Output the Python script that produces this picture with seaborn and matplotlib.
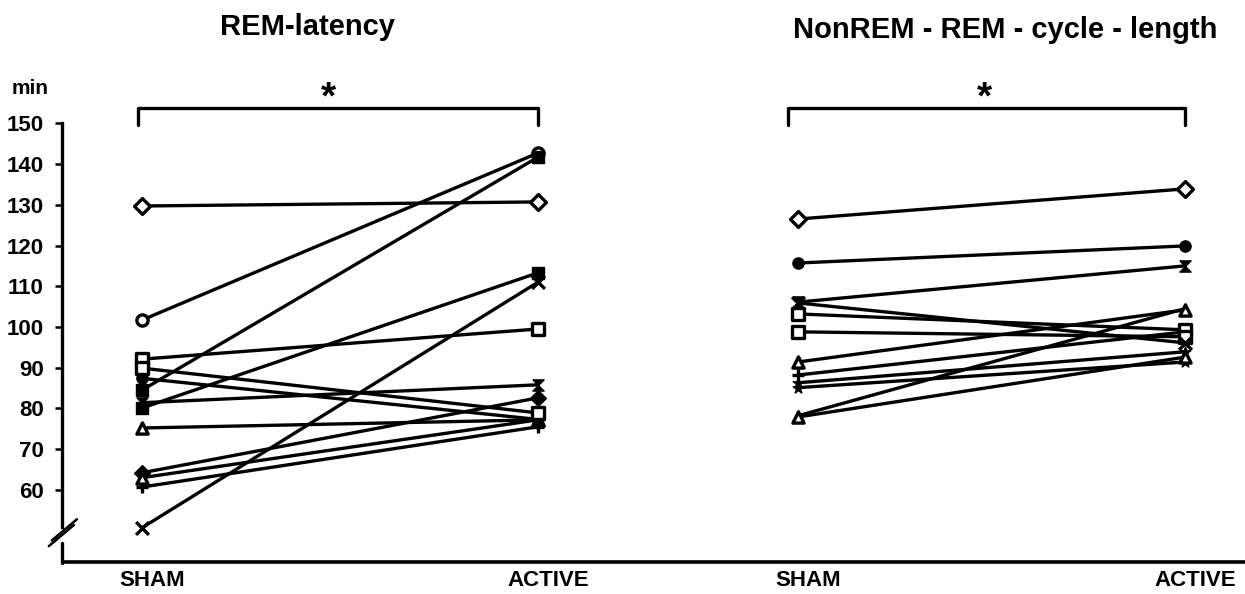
import pandas as pd
import matplotlib.pyplot as plt
import matplotlib.transforms as mtransforms
from matplotlib.lines import Line2D
import seaborn as sns

# values (min)
conditions = ["SHAM", "ACTIVE"]

rem_sham = [129.7, 101.7, 92.1, 89.9, 87.4, 84.5, 81.4, 80.1, 75.2, 64.2, 63.0, 60.7, 50.7]
rem_active = [130.7, 142.7, 99.5, 78.9, 77.3, 141.7, 85.8, 113.3, 77.2, 82.6, 77.2, 75.5, 111.0]
rem_markers = ["D", "o", "s", "s", "o", "s", "hg", "s", "^", "D", "^", "+", "x"]
rem_open = [True, True, True, True, False, False, False, False, True, False, True, False, False]

cyc_sham = [126.5, 115.7, 106.1, 105.9, 103.2, 98.8, 91.4, 88.2, 86.3, 85.1, 78.2, 77.9]
cyc_active = [133.9, 119.9, 115.0, 96.1, 99.3, 97.6, 104.2, 98.8, 93.9, 91.4, 104.5, 92.6]
cyc_markers = ["D", "o", "hg", "x", "s", "s", "^", "+", "*", "*", "^", "^"]
cyc_open = [True, False, False, False, True, True, True, False, False, False, False, True]

y_ticks = list(range(60, 160, 10))

# hourglass marker
hourglass = [(-1, 1), (1, 1), (-1, -1), (1, -1), (-1, 1)]


def make_df(sham, active, markers, opens):
    rows = []
    for i, (s, a) in enumerate(zip(sham, active)):
        for cond, v in zip(conditions, [s, a]):
            rows.append({"subject": i, "cond": cond, "x": conditions.index(cond),
                         "value": v, "marker": markers[i], "open": opens[i]})
    return pd.DataFrame(rows)


rem_df = make_df(rem_sham, rem_active, rem_markers, rem_open)
cyc_df = make_df(cyc_sham, cyc_active, cyc_markers, cyc_open)

sns.set_theme(style="white")
plt.rcParams['font.family'] = ['Liberation Sans', 'DejaVu Sans']
plt.rcParams['font.weight'] = 'bold'
plt.rcParams['text.color'] = 'black'
plt.rcParams['xtick.color'] = 'black'
plt.rcParams['ytick.color'] = 'black'
plt.rcParams['axes.labelcolor'] = 'black'

W, H = 1245, 594
fig = plt.figure(figsize=(W / 100, H / 100), dpi=100)
bot = (H - 562) / H
hgt = (562 - 123.3) / H
ax1 = fig.add_axes([62 / W, bot, (660 - 62) / W, hgt])
ax2 = fig.add_axes([660 / W, bot, (W - 660) / W, hgt], sharey=ax1)


def draw_panel(ax, df):
    sns.lineplot(data=df, x="x", y="value", units="subject", estimator=None,
                 color="black", lw=2.4, ax=ax, legend=False)
    for (m, op), g in df.groupby(["marker", "open"]):
        mk = hourglass if m == "hg" else m
        if m in ("x", "+"):
            sns.scatterplot(data=g, x="x", y="value", marker=mk, color="black",
                            s=85, linewidth=2.4, ax=ax, zorder=3, legend=False)
        elif op:
            sns.scatterplot(data=g, x="x", y="value", marker=mk, color="white",
                            edgecolor="black", s=65, linewidth=2.4, ax=ax,
                            zorder=3, legend=False)
        else:
            sns.scatterplot(data=g, x="x", y="value", marker=mk, color="black",
                            edgecolor="black", s=65, linewidth=1, ax=ax,
                            zorder=3, legend=False)


draw_panel(ax1, rem_df)
draw_panel(ax2, cyc_df)

ax1.set_ylim(42.3, 150)
ax1.set_xlim(-80 / 396, 1 + 122 / 396)
ax2.set_xlim(-138 / 387, 1 + 60 / 387)

for ax in (ax1, ax2):
    ax.set_xlabel("")
    ax.set_ylabel("")
    ax.set_xticks([0, 1])
    ax.set_xticklabels(conditions, fontsize=16, fontweight="bold")
    ax.tick_params(axis="x", length=0, pad=6)
    ax.spines["top"].set_visible(False)
    ax.spines["right"].set_visible(False)
    ax.spines["bottom"].set_visible(False)
    shift = mtransforms.ScaledTranslation(0.1, 0, fig.dpi_scale_trans)
    for lab in ax.get_xticklabels():
        lab.set_transform(lab.get_transform() + shift)

# one continuous x axis line under both panels
fig.add_artist(Line2D([62 / W, 1.0], [bot, bot], color="black", lw=2.6,
                      solid_capstyle="butt"))

ax1.set_yticks(y_ticks)
ax1.set_yticklabels([str(t) for t in y_ticks], fontsize=16, fontweight="bold")
ax1.tick_params(axis="y", direction="out", length=5, width=1.8, color="black",
                left=True, pad=8)
ax1.spines["left"].set_linewidth(2.4)
ax1.spines["left"].set_color("black")
ax1.spines["left"].set_bounds(50.9, 150)
ax2.spines["left"].set_visible(False)
ax2.tick_params(axis="y", left=False, labelleft=False)

# lower piece of the broken y axis and the break marks
btr = mtransforms.blended_transform_factory(ax1.transAxes, ax1.transData)
ax1.plot([0, 0], [42.0, 47.0], color="black", lw=2.4, transform=btr, clip_on=False)
ax1.plot([-0.022, 0.02], [46.2, 51.4], color="black", lw=1.8, transform=btr, clip_on=False)
ax1.plot([-0.017, 0.025], [47.6, 52.8], color="black", lw=1.8, transform=btr, clip_on=False)

# significance brackets
ax1.plot([-0.01, -0.01, 1.0, 1.0], [149.6, 153.8, 153.8, 149.6], color="black",
         lw=2.4, clip_on=False)
ax1.text(0.47, 156.0, "*", fontsize=28, fontweight="bold", ha="center", va="center")
ax2.plot([-0.026, -0.026, 1.0, 1.0], [149.6, 153.8, 153.8, 149.6], color="black",
         lw=2.4, clip_on=False)
ax2.text(0.483, 156.0, "*", fontsize=28, fontweight="bold", ha="center", va="center")

fig.text(307 / W, 1 - 27 / H, "REM-latency", fontsize=21, fontweight="bold",
         ha="center", va="center")
fig.text(1005 / W, 1 - 30 / H, "NonREM - REM - cycle - length", fontsize=21,
         fontweight="bold", ha="center", va="center")
fig.text(12 / W, 1 - 88 / H, "min", fontsize=15, fontweight="bold", ha="left",
         va="center")

fig.savefig("out.png", dpi=100)
